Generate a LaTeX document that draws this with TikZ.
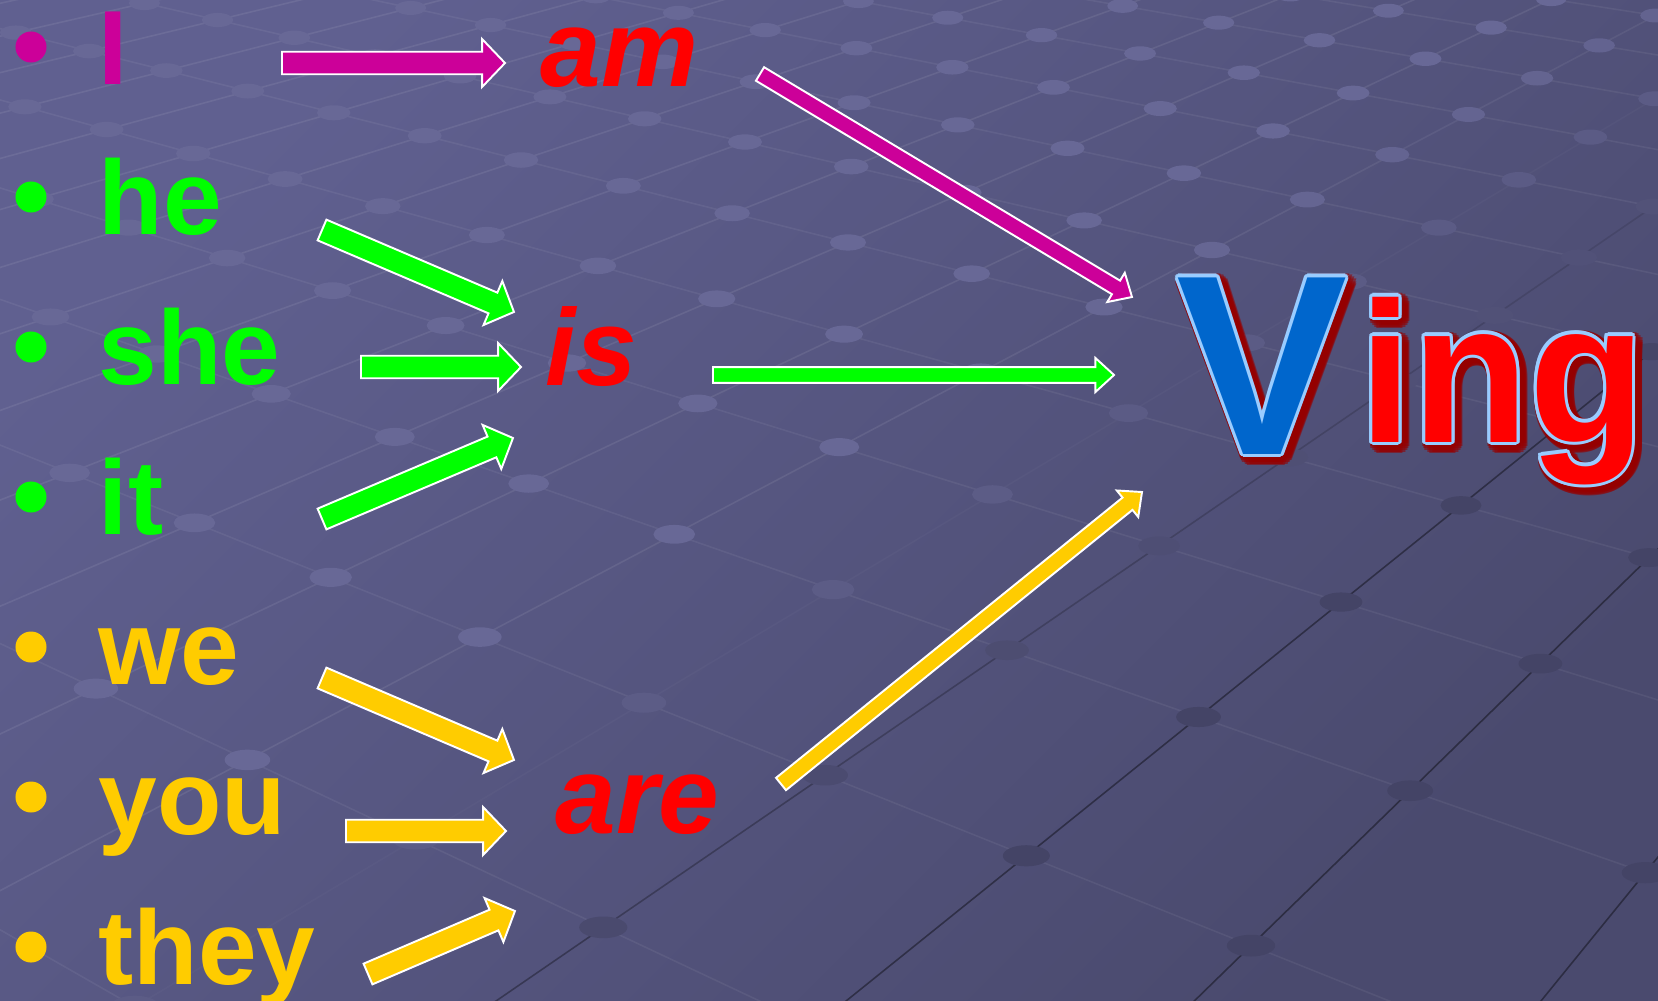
\documentclass[tikz,border=0pt]{standalone}
\usepackage{fontspec}
\setmainfont{Liberation Sans}
\usepackage{contour}
\usetikzlibrary{calc}

\definecolor{bgtop}{RGB}{96,96,144}
\definecolor{bgbottom}{RGB}{74,74,110}
\definecolor{dotlight}{RGB}{104,104,150}
\definecolor{dotdark}{RGB}{68,68,102}
\definecolor{pronmag}{RGB}{204,0,153}
\definecolor{prongreen}{RGB}{0,255,0}
\definecolor{pronyellow}{RGB}{255,204,0}
\definecolor{verbred}{RGB}{255,0,0}
\definecolor{vblue}{RGB}{0,102,204}
\definecolor{vrim}{RGB}{153,204,255}
\definecolor{vshadow}{RGB}{150,0,0}

\contourlength{.9pt}

\tikzset{
    word/.style={anchor=base west, inner sep=0pt, font=\fontsize{30}{36}\selectfont\bfseries},
    verb/.style={anchor=base west, inner sep=0pt, text=verbred, font=\fontsize{31}{37}\selectfont\bfseries\itshape},
    bigletters/.style={anchor=base west, inner sep=0pt, font=\fontsize{#1}{#1}\selectfont\bfseries},
    bullet/.style={circle, inner sep=0pt, minimum size=3.1mm},
    blockedge/.style={draw=white, line width=.55pt, line join=miter},
    netline/.style={line width=.45pt},
}

% block arrow from #1 to #2, fill #3, shaft half width #4, head half width #5, head length #6
\newcommand\blockarrow[6]{%
    \path let \p1=($(#2)-(#1)$) in
        \pgfextra{\pgfmathsetmacro\arrang{atan2(\y1,\x1)}\pgfmathsetmacro\arrlen{veclen(\x1,\y1)}%
            \xdef\arrang{\arrang}\xdef\arrlen{\arrlen}};
    \filldraw[blockedge, fill=#3, shift={(#1)}, rotate=\arrang]
        (0pt,-#4) -- ({\arrlen pt-#6},-#4) -- ({\arrlen pt-#6},-#5) -- (\arrlen pt,0pt)
        -- ({\arrlen pt-#6},#5) -- ({\arrlen pt-#6},#4) -- (0pt,#4) -- cycle;}
\newcommand\widearrow[3]{\blockarrow{#1}{#2}{#3}{3.2pt}{6.8pt}{6.5pt}}
\newcommand\thinarrow[3]{\blockarrow{#1}{#2}{#3}{2.25pt}{4.85pt}{5.3pt}}

\begin{document}
\begin{tikzpicture}[x=.01cm, y=-.01cm]
    \useasboundingbox (0,0) rectangle (1658,1000);
    \shade[top color=bgtop, bottom color=bgbottom, shading angle=45] (0,0) rectangle (1658,1000);

    % background net
    \begin{scope}
        \clip (0,0) rectangle (1658,1000);
        \foreach \i in {-9,...,10}{
            \foreach \j in {-8,...,7}{
                \pgfmathsetmacro\D{1-0.029*\i+0.0545*\j}
                \pgfmathsetmacro\xa{(745+81.6*\i+155.6*\j)/\D}
                \pgfmathsetmacro\ya{(142+19.75*\i-33.7*\j)/\D}
                \pgfmathsetmacro\xb{(745+81.6*(\i+1)+155.6*\j)/(\D-0.029)}
                \pgfmathsetmacro\yb{(142+19.75*(\i+1)-33.7*\j)/(\D-0.029)}
                \pgfmathsetmacro\xc{(745+81.6*\i+155.6*(\j+1))/(\D+0.0545)}
                \pgfmathsetmacro\yc{(142+19.75*\i-33.7*(\j+1))/(\D+0.0545)}
                \pgfmathsetmacro\shadepct{min(100,max(0,50+(0.6*\xa+\ya-1150)/4))}
                \pgfmathsetmacro\wop{max(0,(50-\shadepct)/50*0.08)}
                \pgfmathsetmacro\bop{max(0,(\shadepct-50)/50*0.4)}
                \draw[netline, white, draw opacity=.06] (\xa,\ya) -- (\xb,\yb);
                \draw[netline, white, draw opacity=\wop] (\xa,\ya) -- (\xc,\yc);
                \draw[netline, black, draw opacity=\bop] (\xa,\ya) -- (\xc,\yc);
            }
        }
        \foreach \i in {-9,...,10}{
            \foreach \j in {-8,...,7}{
                \pgfmathsetmacro\D{1-0.029*\i+0.0545*\j}
                \pgfmathsetmacro\xa{(745+81.6*\i+155.6*\j)/\D}
                \pgfmathsetmacro\ya{(142+19.75*\i-33.7*\j)/\D}
                \pgfmathsetmacro\rx{0.17/sqrt(\D)}
                \pgfmathsetmacro\ry{0.45*\rx}
                \pgfmathtruncatemacro\shadepct{min(100,max(0,50+(0.6*\xa+\ya-1150)/4))}
                \fill[dotdark!\shadepct!dotlight] (\xa,\ya) ellipse [x radius=\rx cm, y radius=\ry cm];
            }
        }
    \end{scope}

    % pronouns
    \node[bullet, fill=pronmag] (dot-i) at (31,47) {};
    \node[bullet, fill=prongreen] (dot-he) at (31,197) {};
    \node[bullet, fill=prongreen] (dot-she) at (31,347) {};
    \node[bullet, fill=prongreen] (dot-it) at (31,497) {};
    \node[bullet, fill=pronyellow] (dot-we) at (31,647) {};
    \node[bullet, fill=pronyellow] (dot-you) at (31,797) {};
    \node[bullet, fill=pronyellow] (dot-they) at (31,947) {};

    \node[word, text=pronmag] (i) at (98,84) {I};
    \node[word, text=prongreen] (he) at (98,234) {he};
    \node[word, text=prongreen] (she) at (98,384) {she};
    \node[word, text=prongreen] (it) at (98,534) {it};
    \node[word, text=pronyellow] (we) at (98,684) {we};
    \node[word, text=pronyellow] (you) at (98,834) {you};
    \node[word, text=pronyellow] (they) at (98,984) {they};

    % verbs
    \node[verb] (am) at (540,87) {am};
    \node[verb] (is) at (545,385) {is};
    \node[verb] (are) at (555,833) {are};

    % V + ing
    \node[bigletters=73, text=vshadow, opacity=.55] (V-shadow) at (1180,458) {\contourlength{2pt}\contour{vshadow}{V}};
    \node[bigletters=73, text=vblue] (V) at (1176,454) {\contour{vrim}{V}};
    \node[bigletters=57, text=vshadow, opacity=.55] (ing-shadow) at (1363,446) {\scalebox{.95}[1]{\contourlength{2pt}\contour{vshadow}{ing}}};
    \node[bigletters=57, text=verbred] (ing) at (1359,442) {\scalebox{.95}[1]{\contour{vrim}{ing}}};

    % arrow ends
    \coordinate (i-start) at (282,63);    \coordinate (i-end) at (505,63);
    \coordinate (he-start) at (322,230);  \coordinate (he-end) at (514,312);
    \coordinate (she-start) at (361,367); \coordinate (she-end) at (521,367);
    \coordinate (it-start) at (322,519);  \coordinate (it-end) at (513,438);
    \coordinate (we-start) at (322,678);  \coordinate (we-end) at (514,760);
    \coordinate (you-start) at (346,831); \coordinate (you-end) at (506,831);
    \coordinate (they-start) at (368,974); \coordinate (they-end) at (515,911);
    \coordinate (am-start) at (760,74);   \coordinate (am-end) at (1132,297);
    \coordinate (is-start) at (713,375);  \coordinate (is-end) at (1114,375);
    \coordinate (are-start) at (781,784); \coordinate (are-end) at (1142,492);

    \widearrow{i-start}{i-end}{pronmag}
    \widearrow{he-start}{he-end}{prongreen}
    \widearrow{she-start}{she-end}{prongreen}
    \widearrow{it-start}{it-end}{prongreen}
    \widearrow{we-start}{we-end}{pronyellow}
    \widearrow{you-start}{you-end}{pronyellow}
    \widearrow{they-start}{they-end}{pronyellow}
    \thinarrow{am-start}{am-end}{pronmag}
    \thinarrow{is-start}{is-end}{prongreen}
    \thinarrow{are-start}{are-end}{pronyellow}
\end{tikzpicture}
\end{document}
